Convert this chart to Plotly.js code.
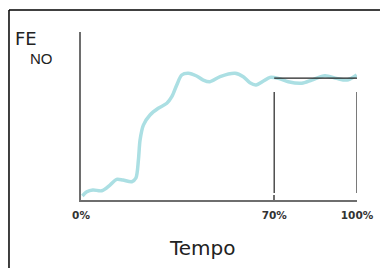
<!DOCTYPE html>
<html><head><meta charset="utf-8">
<script src="https://cdn.plot.ly/plotly-3.0.1.min.js"></script>
<style>html,body{margin:0;padding:0;background:#fff}#c{width:390px;height:268px}</style>
</head><body><div id="c"></div>
<script>
const curveX = [0.5,2.1,4.3,7.5,10.5,12.9,15.2,18.4,19.9,20.8,21.4,22.6,25.0,28.0,31.1,32.9,34.7,36.5,38.9,41.9,44.3,46.7,50.4,55.8,58.8,61.2,63.4,66.1,68.5,71.5,75.1,80.0,83.6,88.4,92.6,96.3,99.9];
const curveY = [2.4,4.9,6.0,5.5,8.9,12.3,11.9,10.9,13.1,23.8,35.7,44.6,50.6,54.6,57.6,61.5,68.5,74.4,75.4,73.8,71.4,70.4,73.4,75.4,73.4,69.8,68.5,70.8,73.0,72.4,70.4,69.5,71.4,74.0,72.4,71.4,74.4];
const plateauX = [70,100];
const plateauY = [72.6,72.6];
const markerX = [70,100];
const markerTop = 64.3;
const markerBottom = 4.2;
const tickVals = [0,70,100];
const tickText = ['0%','70%','100%'];

const traces = [
  {x:curveX,y:curveY,mode:'lines',line:{color:'#abdfe3',width:3.5,shape:'spline',smoothing:0.8},hoverinfo:'skip'},
  {x:plateauX,y:plateauY,mode:'lines',line:{color:'#222',width:1.3},hoverinfo:'skip'}
];
markerX.forEach(v=>traces.push({x:[v,v],y:[markerBottom,markerTop],mode:'lines',line:{color:'#333',width:1.3},hoverinfo:'skip'}));

const layout = {
  width:390,height:268,
  margin:{l:81,r:33,t:32,b:68},
  showlegend:false,
  paper_bgcolor:'#fff',plot_bgcolor:'#fff',
  xaxis:{range:[0,100],showgrid:false,zeroline:false,showline:true,linecolor:'#6e6e6e',linewidth:2,
    tickvals:tickVals,ticktext:tickText,ticks:'inside',ticklen:5,tickcolor:'#6e6e6e',tickwidth:1.5,ticklabelstandoff:4,
    tickfont:{family:'DejaVu Sans, sans-serif',size:10.5,color:'#333',weight:'bold'},fixedrange:true},
  yaxis:{range:[0,100],showgrid:false,zeroline:false,showline:true,linecolor:'#6e6e6e',linewidth:2,
    showticklabels:false,ticks:'',fixedrange:true},
  shapes:[
    {type:'line',xref:'paper',yref:'paper',x0:-0.2609,x1:-0.2609,y0:1.131,y1:-0.41,line:{color:'#000',width:1.5}},
    {type:'line',xref:'paper',yref:'paper',x0:-0.2609,x1:1.0833,y0:1.131,y1:1.131,line:{color:'#000',width:1.5}}
  ],
  annotations:[
    {xref:'paper',yref:'paper',x:(13-81)/276,y:(200-39)/168,xanchor:'left',yanchor:'middle',text:'FE',showarrow:false,
      font:{family:'DejaVu Sans, sans-serif',size:18,color:'#222'}},
    {xref:'paper',yref:'paper',x:(28-81)/276,y:(200-58)/168,xanchor:'left',yanchor:'middle',text:'NO',showarrow:false,
      font:{family:'Liberation Sans, Arial, sans-serif',size:15,color:'#222'}},
    {xref:'paper',yref:'paper',x:(202-81)/276,y:(200-248)/168,xanchor:'center',yanchor:'middle',text:'Tempo',showarrow:false,
      font:{family:'DejaVu Sans, sans-serif',size:20,color:'#222'}}
  ]
};
Plotly.newPlot('c',traces,layout,{displayModeBar:false,staticPlot:true});
</script></body></html>
